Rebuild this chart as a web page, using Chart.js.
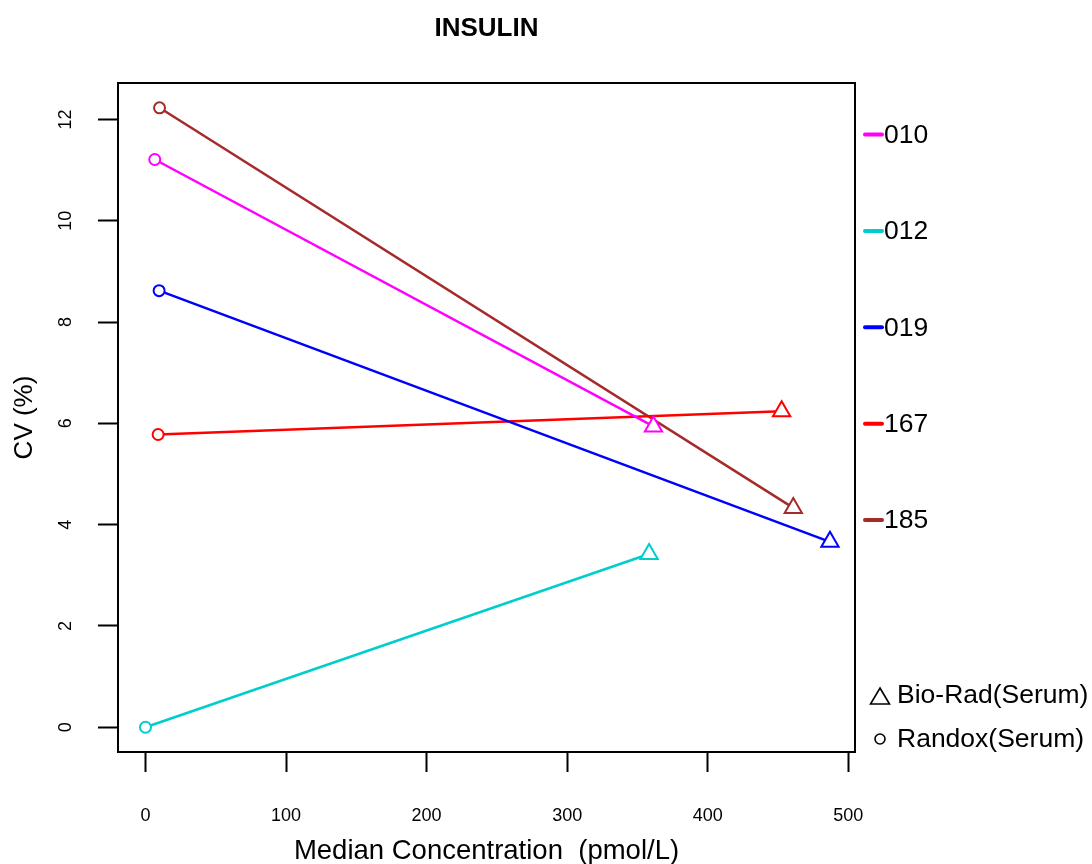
<!DOCTYPE html>
<html>
<head>
<meta charset="utf-8">
<script src="https://cdn.jsdelivr.net/npm/chart.js@4.4.1/dist/chart.umd.min.js"></script>
<style>
  html, body { margin: 0; padding: 0; background: #fff; }
  #wrap { width: 1092px; height: 864px; position: relative; }
</style>
</head>
<body>
<div id="wrap"><canvas id="chart"></canvas></div>
<script>
// lab codes and their colours
const labs = ['010', '012', '019', '167', '185'];
const colors = ['#FF00FF', '#00CDCD', '#0000FF', '#FF0000', '#A52A2A'];

// Randox (circle) and Bio-Rad (triangle) points per lab
const randoxX = [6.6, 0, 9.7, 9, 10];
const randoxY = [11.21, 0, 8.62, 5.78, 12.23];
const bioradX = [361.4, 358.3, 487, 452.6, 460.9];
const bioradY = [5.94, 3.42, 3.66, 6.24, 4.33];

const xTicks = [0, 100, 200, 300, 400, 500];
const yTicks = [0, 2, 4, 6, 8, 10, 12];
const methods = ['Bio-Rad(Serum)', 'Randox(Serum)'];

const FONT = '"Liberation Sans", Arial, sans-serif';

const datasets = labs.map((lab, i) => ({
  label: lab,
  data: [
    { x: randoxX[i], y: randoxY[i] },
    { x: bioradX[i], y: bioradY[i] },
  ],
  showLine: true,
  borderColor: colors[i],
  borderWidth: 2.5,
  pointStyle: ['circle', 'triangle'],
  pointRadius: [5.5, 10],
  pointBorderWidth: 2,
  pointBorderColor: colors[i],
  pointBackgroundColor: '#fff',
}));

// box around the plot + the two legends on the right
const frame = {
  id: 'frame',
  afterDraw(chart) {
    const { ctx, chartArea: a } = chart;
    ctx.save();
    ctx.strokeStyle = '#000';
    ctx.lineWidth = 2;
    ctx.strokeRect(a.left, a.top, a.right - a.left, a.bottom - a.top);

    ctx.font = '26.5px ' + FONT;
    ctx.textBaseline = 'middle';
    ctx.textAlign = 'left';
    labs.forEach((lab, i) => {
      const y = 134.5 + i * 96.4;
      ctx.strokeStyle = colors[i];
      ctx.lineWidth = 4;
      ctx.lineCap = 'round';
      ctx.beginPath();
      ctx.moveTo(a.right + 10, y);
      ctx.lineTo(a.right + 27, y);
      ctx.stroke();
      ctx.fillStyle = '#000';
      ctx.fillText(lab, a.right + 29, y + 1);
    });

    // shape legend
    ctx.strokeStyle = '#000';
    ctx.lineWidth = 1.6;
    ctx.lineCap = 'butt';
    let cx = a.right + 25, cy = 697;
    ctx.beginPath();
    ctx.moveTo(cx, cy - 9);
    ctx.lineTo(cx + 9.5, cy + 7);
    ctx.lineTo(cx - 9.5, cy + 7);
    ctx.closePath();
    ctx.stroke();
    ctx.fillText(methods[0], a.right + 42, 696);
    cy = 739;
    ctx.beginPath();
    ctx.arc(cx, cy, 5, 0, Math.PI * 2);
    ctx.stroke();
    ctx.fillText(methods[1], a.right + 42, 740);
    ctx.restore();
  }
};

new Chart(document.getElementById('chart'), {
  type: 'scatter',
  data: { datasets },
  options: {
    responsive: true,
    maintainAspectRatio: false,
    animation: false,
    events: [],
    layout: { padding: { top: 0, right: 237, bottom: 0, left: 0 } },
    plugins: {
      legend: { display: false },
      tooltip: { enabled: false },
      title: {
        display: true,
        text: 'INSULIN',
        fullSize: false,
        color: '#000',
        font: { family: FONT, size: 26, weight: 'bold', lineHeight: 1.2 },
        padding: { top: 13, bottom: 38.8 },
      },
    },
    scales: {
      x: {
        type: 'linear',
        min: -19.55,
        max: 504.8,
        afterBuildTicks: s => { s.ticks = xTicks.map(v => ({ value: v })); },
        afterFit: s => { s.height = 112; },
        border: { display: false },
        grid: { drawOnChartArea: false, drawTicks: true, tickLength: 20, tickColor: '#000', tickWidth: 2 },
        ticks: { color: '#000', font: { family: FONT, size: 18 }, padding: 33, maxRotation: 0 },
        title: {
          display: true,
          text: 'Median Concentration  (pmol/L)',
          color: '#000',
          font: { family: FONT, size: 27.5, lineHeight: 0.9 },
          padding: 0,
        },
      },
      y: {
        type: 'linear',
        min: -0.489,
        max: 12.72,
        afterBuildTicks: s => { s.ticks = yTicks.map(v => ({ value: v })); },
        afterFit: s => { s.width = 118; },
        border: { display: false },
        grid: { drawOnChartArea: false, drawTicks: true, tickLength: 20, tickColor: '#000', tickWidth: 2 },
        ticks: { color: '#000', font: { family: FONT, size: 18 }, padding: 22, minRotation: 90, maxRotation: 90, crossAlign: 'center' },
        title: {
          display: true,
          text: 'CV (%)',
          color: '#000',
          font: { family: FONT, size: 26, lineHeight: 1.2 },
          padding: { top: 9.4, bottom: 0 },
        },
      },
    },
  },
  plugins: [frame],
});
</script>
</body>
</html>
